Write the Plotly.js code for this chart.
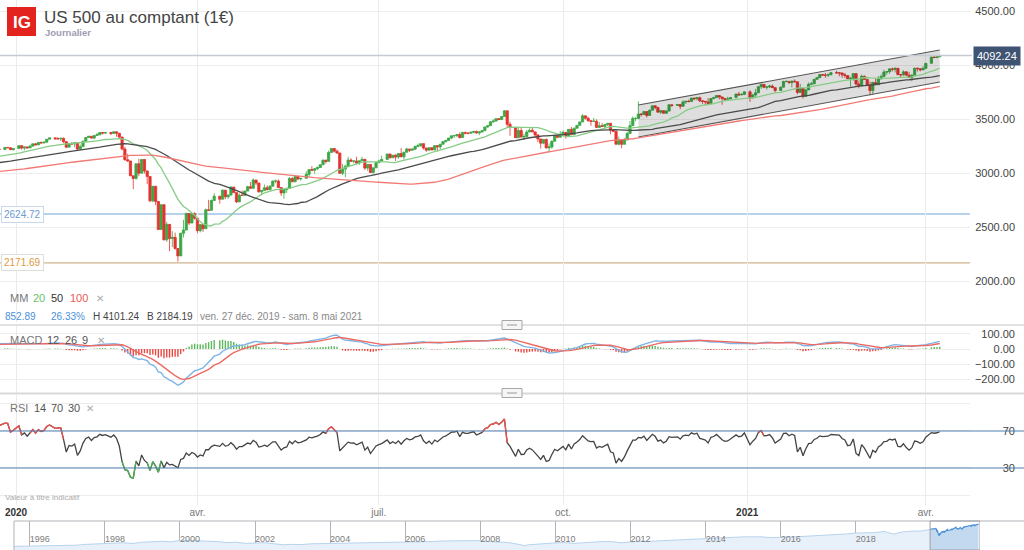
<!DOCTYPE html>
<html>
<head>
<meta charset="utf-8">
<script src="https://cdn.plot.ly/plotly-3.0.1.min.js"></script>
<style>html,body{margin:0;padding:0;background:#fff;}#chart{width:1024px;height:550px;}</style>
</head>
<body>
<div id="chart"></div>
<script>
// ---------------- DATA ----------------
// US holidays (no session)
const holidays = ['2019-09-02','2019-11-28','2019-12-25','2020-01-01','2020-01-20','2020-02-17','2020-04-10','2020-05-25','2020-07-03','2020-09-07','2020-11-26','2020-12-25','2021-01-01','2021-01-18','2021-02-15','2021-04-02'];

// Closes before the visible window (Aug 1 - Dec 23 2019), only used to seed the indicators
const preClose = [
 2953,2932,2844,2881,2883,2938,2918,2883,2926,2840,2847,2889,2923,2900,2924,2922,2847,2878,2869,2887,2924,2926,
 2906,2937,2976,2979,2978,2979,3000,3009,3007,2997,3005,3006,3006,2992,2991,2966,2984,2977,2961,2976,
 2940,2887,2910,2952,2938,2893,2919,2938,2970,2966,2995,2989,2997,2986,3006,2996,3004,3010,3023,3039,3036,3046,3038,
 3067,3078,3075,3077,3085,3093,3087,3091,3094,3097,3120,3122,3120,3108,3104,3110,3133,3140,3153,3141,
 3113,3093,3113,3117,3146,3136,3133,3142,3169,3169,3192,3192,3191,3206,3221,3224
];

// Daily candles, Dec 24 2019 - Apr 8 2021 (the CFD opens where the prior session closed)
const openP = [
 3224,3223,3240,3239.35,3221,
 3231,3258,3235,3246,3237,3253,3275,3265,3288,3283,3289,3317,3330,3321,3321,3326,3295,3244,3276,3273,3284,
 3226,3249,3298,3334,3345,3328,3352,3358,3379,3374,3380,3370,3386,3373,3338,3226,3128,3116,2979,
 2954,3090,3003,3130,3024,2972,2747,2882,2741,2481,2711,2386,2529,2398,2409,2305,2237,2447,2476,2630,2541,2627,
 2585,2471,2527,2489,2664,2659,2750,2790,2762,2846,2784,2800,2875,2823,2737,2799,2798,2837,2878,2863,2940,
 2912,2831,2843,2868,2849,2882,2930,2930,2870,2820,2852,2864,2954,2923,2972,2949,2955,2992,3036,3030,
 3044,3056,3081,3123,3112,3194,3232,3207,3190,3002,3041,3067,3125,3114,3116,3098,3118,3131,3050,3084,3009,3053,
 3100,3116,3130,3180,3145,3169,3152,3185,3155,3197,3227,3216,3225,3251,3257,3276,3236,3216,3239,3218,3258,3246,
 3271,3295,3306,3328,3349,3351,3360,3333,3380,3373,3373,3382,3389,3375,3385,3397,3431,3443,3479,3485,3508,
 3500,3527,3580,3455,3427,3331,3399,3339,3341,3384,3401,3385,3357,3320,3281,3315,3237,3246,3298,3351,3335,
 3363,3381,3348,3409,3361,3419,3446,3477,3534,3512,3489,3483,3484,3427,3443,3435,3453,3465,3401,3391,3271,3310,
 3270,3310,3370,3443,3510,3510,3551,3546,3573,3537,3585,3627,3610,3568,3582,3558,3578,3636,3630,3638,
 3622,3662,3669,3666,3699,3692,3702,3673,3668,3663,3647,3695,3702,3722,3709,3695,3687,3690,3703,3735,3727,3732,
 3756,3701,3727,3748,3804,3825,3799,3801,3810,3795,3768,3799,3852,3853,3841,3855,3849,3751,3787,
 3714,3774,3826,3830,3872,3887,3916,3911,3910,3916,3934,3932,3931,3914,3907,3877,3881,3925,3829,
 3811,3901,3871,3820,3768,3842,3821,3875,3898,3939,3943,3969,3963,3974,3916,3913,3941,3911,3889,3910,3975,3971,3959,
 3973,4020,4078,4074,4080
];
const highP = [
 3226,3240,3247,3240,3231,
 3258,3246,3247,3245,3267,3276,3282,3289,3294,3298,3317,3330,3329,3337,3326,3334,3258,3285,3293,3285,3282,
 3268,3307,3337,3347,3342,3352,3376,3381,3385,3381,3375,3393,3390,3360,3259,3247,3182,3098,2959,
 3091,3136,3130,3083,2985,2863,2882,2825,2660,2711,2562,2553,2453,2466,2453,2300,2450,2571,2638,2616,2631,2642,
 2523,2534,2538,2676,2756,2760,2818,2783,2852,2801,2806,2880,2868,2785,2815,2844,2842,2887,2921,2954,2931,
 2869,2844,2898,2891,2892,2933,2945,2945,2875,2852,2865,2968,2965,2980,2978,2957,3021,3036,3068,3049,
 3063,3082,3131,3129,3212,3233,3223,3223,3124,3089,3079,3154,3141,3120,3155,3120,3155,3115,3086,3074,3053,3111,
 3128,3166,3183,3184,3172,3179,3187,3236,3200,3239,3221,3233,3258,3277,3279,3280,3227,3242,3244,3264,3250,3272,
 3302,3306,3330,3352,3352,3364,3381,3387,3387,3378,3387,3395,3399,3390,3399,3432,3444,3481,3501,3510,3514,
 3528,3588,3564,3479,3379,3424,3425,3368,3403,3419,3428,3375,3363,3301,3320,3324,3279,3307,3360,3357,3393,
 3397,3369,3409,3432,3426,3447,3482,3550,3535,3527,3490,3515,3502,3476,3465,3460,3466,3441,3411,3342,3342,3305,
 3330,3389,3486,3529,3521,3668,3558,3581,3569,3593,3628,3624,3619,3586,3582,3589,3643,3638,3644,3634,
 3678,3670,3683,3699,3697,3709,3713,3678,3665,3697,3695,3712,3725,3726,3702,3698,3711,3703,3740,3756,3744,3760,
 3770,3738,3783,3811,3826,3818,3810,3821,3823,3796,3805,3859,3862,3852,3860,3871,3837,3830,3779,
 3784,3843,3848,3872,3895,3916,3919,3931,3925,3937,3950,3933,3921,3931,3902,3895,3928,3926,3861,
 3915,3906,3874,3852,3851,3881,3903,3917,3960,3944,3970,3981,3984,3969,3921,3956,3949,3942,3919,3978,3981,3969,3994,
 4021,4083,4086,4083,4101.24
];
const lowP = [
 3220,3222,3234,3216,3212,
 3228,3222,3215,3233,3236,3253,3260,3265,3277,3280,3289,3317,3316,3320,3301,3281,3234,3244,3271,3243,3214,
 3220,3249,3298,3334,3323,3317,3352,3358,3361,3367,3355,3370,3341,3328,3215,3118,3108,2977,2855,
 2945,2976,3003,2999,2901,2734,2734,2707,2478,2481,2380,2367,2281,2319,2295,2184.19,2237,2408,2476,2521,2541,2571,
 2447,2455,2459,2489,2657,2659,2750,2721,2762,2761,2765,2800,2820,2728,2737,2794,2795,2837,2861,2863,2892,
 2822,2797,2843,2847,2849,2882,2910,2869,2793,2766,2820,2864,2922,2923,2938,2934,2955,2969,3024,2999,
 3032,3052,3081,3091,3112,3194,3194,3181,2999,2984,2966,3067,3108,3093,3083,3079,3118,3033,3025,3005,3000,3048,
 3100,3116,3130,3142,3145,3116,3136,3150,3128,3197,3199,3211,3216,3248,3250,3222,3200,3215,3215,3218,3205,3220,
 3271,3287,3306,3318,3329,3336,3323,3333,3363,3362,3373,3370,3369,3354,3379,3397,3422,3443,3468,3484,3494,
 3494,3527,3427,3349,3329,3331,3330,3310,3341,3384,3384,3328,3292,3230,3271,3232,3209,3228,3298,3327,3335,
 3361,3323,3348,3354,3361,3419,3446,3477,3500,3480,3441,3483,3420,3427,3433,3415,3440,3364,3385,3268,3260,3233,
 3270,3310,3370,3443,3484,3510,3526,3546,3518,3537,3585,3593,3567,3553,3557,3552,3578,3617,3630,3595,
 3622,3644,3660,3666,3679,3678,3660,3644,3634,3645,3647,3686,3702,3686,3636,3676,3687,3689,3703,3723,3727,3726,
 3663,3696,3705,3748,3783,3790,3776,3791,3792,3750,3768,3799,3845,3831,3797,3847,3733,3751,3694,
 3714,3774,3822,3830,3871,3887,3906,3885,3891,3906,3923,3900,3885,3884,3874,3805,3860,3814,3789,
 3811,3868,3818,3723,3730,3819,3821,3875,3898,3915,3924,3944,3936,3910,3886,3906,3901,3889,3854,3910,3944,3945,3959,
 3973,4020,4068,4069,4080
];
const closeP = [
 3223,3240,3239.35,3221,3231,
 3258,3235,3246,3237,3253,3275,3265,3288,3283,3289,3317,3330,3321,3321,3326,3295,3244,3276,3273,3284,3226,
 3249,3298,3334,3345,3328,3352,3358,3379,3374,3380,3370,3386,3373,3338,3226,3128,3116,2979,2954,
 3090,3003,3130,3024,2972,2747,2882,2741,2481,2711,2386,2529,2398,2409,2305,2237,2447,2476,2630,2541,2627,2585,
 2471,2527,2489,2664,2659,2750,2790,2762,2846,2784,2800,2875,2823,2737,2799,2798,2837,2878,2863,2940,2912,
 2831,2843,2868,2849,2882,2930,2930,2870,2820,2852,2864,2954,2923,2972,2949,2955,2992,3036,3030,3044,
 3056,3081,3123,3112,3194,3232,3207,3190,3002,3041,3067,3125,3114,3116,3098,3118,3131,3050,3084,3009,3053,3100,
 3116,3130,3180,3145,3169,3152,3185,3155,3197,3227,3216,3225,3251,3257,3276,3236,3216,3239,3218,3258,3246,3271,
 3295,3306,3328,3349,3351,3360,3333,3380,3373,3373,3382,3389,3375,3385,3397,3431,3443,3479,3485,3508,3500,
 3527,3580,3455,3427,3331,3399,3339,3341,3384,3401,3385,3357,3320,3281,3315,3237,3246,3298,3351,3335,3363,
 3381,3348,3409,3361,3419,3446,3477,3534,3512,3489,3483,3484,3427,3443,3435,3453,3465,3401,3391,3271,3310,3270,
 3310,3370,3443,3510,3510,3551,3546,3573,3537,3585,3627,3610,3568,3582,3558,3578,3636,3630,3638,3622,
 3662,3669,3666,3699,3692,3702,3673,3668,3663,3647,3695,3702,3722,3709,3695,3687,3690,3703,3735,3727,3732,3756,
 3701,3727,3748,3804,3825,3799,3801,3810,3795,3768,3799,3852,3853,3841,3855,3849,3751,3787,3714,
 3774,3826,3830,3872,3887,3916,3911,3910,3916,3934,3932,3931,3914,3907,3877,3881,3925,3829,3811,
 3901,3871,3820,3768,3842,3821,3875,3898,3939,3943,3969,3963,3974,3916,3913,3941,3911,3889,3910,3975,3971,3959,3973,
 4020,4078,4074,4080,4092.24
];

// Moving-average periods and indicator settings shown in the legends
const maPeriods = [20, 50, 100];
const macdParams = [12, 26, 9];
const rsiParams = [14, 70, 30];

// Drawn levels and channel (user drawings)
const levels = [2624.72, 2171.69];
const channelDates = ['2020-11-09', '2021-04-08'];
const channelTop = [3634, 4143];
const channelBottom = [3338, 3847];

// Axis ticks
const priceTicks = [2000, 2500, 3000, 3500, 4000, 4500];
const macdTicks = [-200, -100, 0, 100];
const rsiTicks = [0, 30, 70, 100];
const rsiTickText = ['', '30', '70', ''];
const monthTicks = ['2020-01-01','2020-04-01','2020-07-01','2020-10-01','2021-01-01','2021-04-01'];
const monthLabels = ['<b style="color:#333">2020</b>','avr.','juil.','oct.','<b style="color:#333">2021</b>','avr.'];
const viewRange = ['2019-12-24 06:00', '2021-04-22 20:00'];
const rangeText = 'ven. 27 déc. 2019 - sam. 8 mai 2021';
const refDate = '2019-12-27';

// Navigator (long history)
const navDates = ['1995-07-01','1995-10-01','1996-01-01','1996-04-01','1996-07-01','1996-10-01','1997-01-01','1997-04-01','1997-07-01','1997-10-01',
 '1998-01-01','1998-04-01','1998-07-01','1998-10-01','1999-01-01','1999-04-01','1999-07-01','1999-10-01','2000-01-01','2000-04-01','2000-07-01','2000-10-01',
 '2001-01-01','2001-04-01','2001-07-01','2001-10-01','2002-01-01','2002-04-01','2002-07-01','2002-10-01','2003-01-01','2003-04-01','2003-07-01','2003-10-01',
 '2004-01-01','2004-04-01','2004-07-01','2004-10-01','2005-01-01','2005-04-01','2005-07-01','2005-10-01','2006-01-01','2006-04-01','2006-07-01','2006-10-01',
 '2007-01-01','2007-04-01','2007-07-01','2007-10-01','2008-01-01','2008-04-01','2008-07-01','2008-10-01','2009-01-01','2009-03-09','2009-04-01','2009-07-01','2009-10-01',
 '2010-01-01','2010-04-01','2010-07-01','2010-10-01','2011-01-01','2011-04-01','2011-07-01','2011-10-01','2012-01-01','2012-04-01','2012-07-01','2012-10-01',
 '2013-01-01','2013-04-01','2013-07-01','2013-10-01','2014-01-01','2014-04-01','2014-07-01','2014-10-01','2015-01-01','2015-04-01','2015-07-01','2015-10-01',
 '2016-01-01','2016-04-01','2016-07-01','2016-10-01','2017-01-01','2017-04-01','2017-07-01','2017-10-01','2018-01-01','2018-04-01','2018-07-01','2018-10-01',
 '2019-01-01','2019-04-01','2019-07-01','2019-10-01','2019-12-23'];
const navClose = [562,582,616,645,670,687,740,757,885,947,
 970,1101,1133,1017,1229,1286,1372,1282,1469,1498,1454,1436,
 1320,1160,1224,1040,1148,1147,990,815,880,848,975,996,
 1112,1126,1140,1114,1212,1180,1191,1228,1248,1295,1270,1335,
 1418,1421,1503,1527,1468,1323,1280,1166,903,677,798,919,1057,
 1115,1169,1030,1141,1257,1326,1320,1131,1258,1408,1362,1440,
 1426,1569,1606,1682,1848,1872,1960,1972,2059,2068,2063,1920,
 2044,2060,2099,2168,2239,2363,2423,2519,2674,2640,2718,2914,
 2507,2834,2964,2977,3224];
const navTicks = ['1996-01-01','1998-01-01','2000-01-01','2002-01-01','2004-01-01','2006-01-01','2008-01-01','2010-01-01','2012-01-01','2014-01-01','2016-01-01','2018-01-01'];
const navLabels = ['1996','1998','2000','2002','2004','2006','2008','2010','2012','2014','2016','2018'];

// ---------------- HELPERS ----------------
function tradingDays(start, end, skip) {
  const out = []; const d = new Date(start + 'T00:00:00Z'); const e = new Date(end + 'T00:00:00Z');
  while (d <= e) { const w = d.getUTCDay(); const s = d.toISOString().slice(0, 10);
    if (w !== 0 && w !== 6 && skip.indexOf(s) < 0) out.push(s); d.setUTCDate(d.getUTCDate() + 1); }
  return out;
}
function sma(a, n) { const r = []; let s = 0; for (let i = 0; i < a.length; i++) { s += a[i]; if (i >= n) s -= a[i - n]; r.push(i >= n - 1 ? s / n : null); } return r; }
function ema(a, n) { const k = 2 / (n + 1); const r = [a[0]]; for (let i = 1; i < a.length; i++) r.push(a[i] * k + r[i - 1] * (1 - k)); return r; }
function rsi(a, n) { const r = [null]; let g = 0, l = 0;
  for (let i = 1; i < a.length; i++) { const ch = a[i] - a[i - 1]; const up = Math.max(ch, 0), dn = Math.max(-ch, 0);
    if (i <= n) { g += up / n; l += dn / n; r.push(i === n ? 100 - 100 / (1 + g / (l || 1e-9)) : null); }
    else { g = (g * (n - 1) + up) / n; l = (l * (n - 1) + dn) / n; r.push(100 - 100 / (1 + g / (l || 1e-9))); } }
  return r; }

const allDates = tradingDays('2019-08-01', '2021-04-08', holidays);
const nPre = preClose.length;
const dates = allDates.slice(nPre);
const allClose = preClose.concat(closeP);
const cut = a => a.slice(nPre);

const maLines = maPeriods.map(p => cut(sma(allClose, p)));
const e1 = ema(allClose, macdParams[0]), e2 = ema(allClose, macdParams[1]);
const macdAll = e1.map((v, i) => v - e2[i]);
const sigAll = ema(macdAll, macdParams[2]);
const macd = cut(macdAll), signal = cut(sigAll);
const hist = macd.map((v, i) => v - signal[i]);
const rsiV = cut(rsi(allClose, rsiParams[0]));
const rsiHi = rsiV.map((v, i) => (v > rsiParams[1] || rsiV[i - 1] > rsiParams[1] || rsiV[i + 1] > rsiParams[1]) ? v : null);
const rsiLo = rsiV.map((v, i) => (v < rsiParams[2] || rsiV[i - 1] < rsiParams[2] || rsiV[i + 1] < rsiParams[2]) ? v : null);

const last = closeP.length - 1;
const i0 = dates.indexOf(refDate);
const chg = closeP[last] - closeP[i0];
const pct = chg / closeP[i0] * 100;
const hiMax = Math.max.apply(null, highP.slice(i0));
const loMin = Math.min.apply(null, lowP.slice(i0));

// ---------------- PLOT ----------------
const W = 1024, H = 550;
const px = x => x / W, py = y => 1 - y / H;
const GREEN = '#3aa845', RED = '#e3342f';

const traces = [];
// channel fill
traces.push({ x: [channelDates[0], channelDates[1], channelDates[1], channelDates[0]], y: [channelTop[0], channelTop[1], channelBottom[1], channelBottom[0]],
  fill: 'toself', fillcolor: 'rgba(0,0,0,0.13)', line: { width: 0 }, mode: 'lines', type: 'scatter', xaxis: 'x', yaxis: 'y', hoverinfo: 'skip' });
traces.push({ x: channelDates, y: channelTop, mode: 'lines', line: { color: '#555', width: 1.1 }, type: 'scatter', xaxis: 'x', yaxis: 'y', hoverinfo: 'skip' });
traces.push({ x: channelDates, y: channelBottom, mode: 'lines', line: { color: '#555', width: 1.1 }, type: 'scatter', xaxis: 'x', yaxis: 'y', hoverinfo: 'skip' });
// moving averages
const maColors = ['#86cc86', '#4a4a4a', '#f27a75'];
maLines.forEach((m, k) => traces.push({ x: dates, y: m, mode: 'lines', line: { color: maColors[k], width: 1.3 }, type: 'scatter', xaxis: 'x', yaxis: 'y', hoverinfo: 'skip' }));
// candles
traces.push({ type: 'candlestick', x: dates, open: openP, high: highP, low: lowP, close: closeP, xaxis: 'x', yaxis: 'y',
  increasing: { line: { color: GREEN, width: 0.8 }, fillcolor: GREEN }, decreasing: { line: { color: RED, width: 0.8 }, fillcolor: RED },
  whiskerwidth: 0, hoverinfo: 'skip' });
// MACD
traces.push({ type: 'bar', x: dates, y: hist, xaxis: 'x', yaxis: 'y2', marker: { color: hist.map(v => v >= 0 ? '#5cb85c' : '#e8463f'), line: { width: 0 } }, width: 0.5 * 86400000, hoverinfo: 'skip' });
traces.push({ x: dates, y: macd, mode: 'lines', line: { color: '#7eb3e6', width: 1.4 }, type: 'scatter', xaxis: 'x', yaxis: 'y2', hoverinfo: 'skip' });
traces.push({ x: dates, y: signal, mode: 'lines', line: { color: '#ec6a64', width: 1.4 }, type: 'scatter', xaxis: 'x', yaxis: 'y2', hoverinfo: 'skip' });
// RSI
traces.push({ x: dates, y: rsiV, mode: 'lines', line: { color: '#444', width: 1.3 }, type: 'scatter', xaxis: 'x', yaxis: 'y3', hoverinfo: 'skip' });
traces.push({ x: dates, y: rsiHi, mode: 'lines', line: { color: '#f0514b', width: 1.3 }, type: 'scatter', xaxis: 'x', yaxis: 'y3', hoverinfo: 'skip', connectgaps: false });
traces.push({ x: dates, y: rsiLo, mode: 'lines', line: { color: '#4cb050', width: 1.3 }, type: 'scatter', xaxis: 'x', yaxis: 'y3', hoverinfo: 'skip', connectgaps: false });
// navigator
traces.push({ x: navDates, y: navClose, mode: 'lines', fill: 'tozeroy', fillcolor: '#e8f1fa', line: { color: '#b8d3ee', width: 1 }, type: 'scatter', xaxis: 'x2', yaxis: 'y4', hoverinfo: 'skip' });
traces.push({ x: dates, y: closeP, mode: 'lines', fill: 'tozeroy', fillcolor: '#c3d9f0', line: { color: '#4a8fd7', width: 1.2 }, type: 'scatter', xaxis: 'x2', yaxis: 'y4', hoverinfo: 'skip' });

const ann = [];
function txt(t, x, y, size, color, extra) { ann.push(Object.assign({ text: t, x: px(x), y: py(y), xref: 'paper', yref: 'paper', xanchor: 'left', yanchor: 'middle', showarrow: false, font: { size: size, color: color } }, extra || {})); }
// header
txt('US 500 au comptant (1€)', 42, 18, 17, '#444');
txt('<b>Journalier</b>', 43, 32, 9.5, '#a09cb2');
txt('<b>IG</b>', 21.5, 22, 17, '#fff', { xanchor: 'center' });
// MA legend
txt('MM', 8, 298, 11, '#777'); txt(String(maPeriods[0]), 31, 298, 11, '#6abf69'); txt(String(maPeriods[1]), 49, 298, 11, '#333'); txt(String(maPeriods[2]), 68, 298, 11, '#ee5a55'); txt('✕', 94, 298, 10, '#aaa');
// stats
txt(chg.toFixed(2), 3, 316, 10, '#4a90d9'); txt(pct.toFixed(2) + '%', 49, 316, 10, '#4a90d9');
txt('H ' + hiMax.toFixed(2), 91, 316, 10, '#444'); txt('B ' + loMin.toFixed(2), 145, 316, 10, '#444'); txt(rangeText, 198, 316, 10, '#888');
// MACD legend
txt('MACD', 8, 340, 11, '#777'); txt(String(macdParams[0]), 45, 340, 11, '#555'); txt(String(macdParams[1]), 63, 340, 11, '#555'); txt(String(macdParams[2]), 80, 340, 11, '#555'); txt('✕', 95, 340, 10, '#aaa');
// RSI legend
txt('RSI', 8, 408, 11, '#777'); txt(String(rsiParams[0]), 32, 408, 11, '#555'); txt(String(rsiParams[1]), 49, 408, 11, '#555'); txt(String(rsiParams[2]), 66, 408, 11, '#555'); txt('✕', 84, 408, 10, '#aaa');
txt('Valeur à titre indicatif', 3, 497, 8, '#aaa');
// level labels
ann.push({ text: levels[0].toFixed(2), x: px(1), y: levels[0], xref: 'paper', yref: 'y', xanchor: 'left', yanchor: 'middle', showarrow: false, font: { size: 10, color: '#6b9bd1' }, bgcolor: '#fff', bordercolor: '#c7d8ea', borderwidth: 1, borderpad: 2 });
ann.push({ text: levels[1].toFixed(2), x: px(1), y: levels[1], xref: 'paper', yref: 'y', xanchor: 'left', yanchor: 'middle', showarrow: false, font: { size: 10, color: '#e0993a' }, bgcolor: '#fff', bordercolor: '#ddd', borderwidth: 1, borderpad: 2 });
// last price box
ann.push({ text: closeP[last].toFixed(2), x: px(997), y: closeP[last], xref: 'paper', yref: 'y', xanchor: 'center', yanchor: 'middle', showarrow: false, font: { size: 11, color: '#fff' }, bgcolor: '#3f5372', borderpad: 3 });

const shapes = [
  { type: 'rect', xref: 'paper', yref: 'paper', x0: px(7), x1: px(36), y0: py(36), y1: py(7), fillcolor: '#e2231e', line: { width: 0 } },
  { type: 'line', xref: 'paper', yref: 'y', x0: 0, x1: px(972), y0: closeP[last], y1: closeP[last], line: { color: '#c6cbd3', width: 1.5 } },
  { type: 'line', xref: 'paper', yref: 'y', x0: 0, x1: px(970), y0: levels[0], y1: levels[0], line: { color: '#b7d2ec', width: 2 }, layer: 'below' },
  { type: 'line', xref: 'paper', yref: 'y', x0: 0, x1: px(970), y0: levels[1], y1: levels[1], line: { color: '#d2b48f', width: 1.2 }, layer: 'below' },
  { type: 'line', xref: 'paper', yref: 'y3', x0: 0, x1: 1, y0: rsiParams[1], y1: rsiParams[1], line: { color: '#4f7fb0', width: 1.2 } },
  { type: 'line', xref: 'paper', yref: 'y3', x0: 0, x1: 1, y0: rsiParams[2], y1: rsiParams[2], line: { color: '#4f7fb0', width: 1.2 } },
  // panel separators
  { type: 'line', xref: 'paper', yref: 'paper', x0: 0, x1: 1, y0: py(325), y1: py(325), line: { color: '#c4c4c4', width: 1 } },
  { type: 'line', xref: 'paper', yref: 'paper', x0: 0, x1: 1, y0: py(393.5), y1: py(393.5), line: { color: '#d9d9d9', width: 2 } },
  { type: 'rect', xref: 'paper', yref: 'paper', x0: px(502), x1: px(522), y0: py(329.5), y1: py(320.5), fillcolor: '#f6f6f6', line: { color: '#a8a8a8', width: 1 } },
  { type: 'line', xref: 'paper', yref: 'paper', x0: px(507), x1: px(517), y0: py(325), y1: py(325), line: { color: '#999', width: 1 } },
  { type: 'rect', xref: 'paper', yref: 'paper', x0: px(502), x1: px(522), y0: py(397.5), y1: py(388.5), fillcolor: '#f6f6f6', line: { color: '#a8a8a8', width: 1 } },
  { type: 'line', xref: 'paper', yref: 'paper', x0: px(507), x1: px(517), y0: py(393), y1: py(393), line: { color: '#999', width: 1 } },
  // navigator frame
  { type: 'line', xref: 'paper', yref: 'paper', x0: px(14), x1: 1, y0: py(521), y1: py(521), line: { color: '#b3b3ba', width: 1 } },
  { type: 'line', xref: 'paper', yref: 'paper', x0: px(14), x1: px(14), y0: py(521), y1: 0, line: { color: '#b3b3ba', width: 1 } },
  { type: 'rect', xref: 'x2', yref: 'paper', x0: viewRange[0], x1: viewRange[1], y0: 0, y1: py(521), line: { color: '#9d9da6', width: 1 } }
];

const axBase = { showline: false, zeroline: false, ticks: '', fixedrange: true };
const layout = {
  width: W, height: H, margin: { l: 0, r: 0, t: 0, b: 0 }, paper_bgcolor: '#fff', plot_bgcolor: '#fff', showlegend: false,
  boxmode: 'overlay', boxgap: 0.12, boxgroupgap: 0.08,
  font: { family: 'Liberation Sans, Arial, sans-serif', color: '#444', size: 11 },
  xaxis: Object.assign({}, axBase, { type: 'date', domain: [0, px(970)], anchor: 'y3', range: viewRange, rangebreaks: [{ bounds: ['sat', 'mon'] }],
    rangeslider: { visible: false }, tickvals: monthTicks, ticktext: monthLabels, showgrid: true, gridcolor: '#ebebeb', tickfont: { size: 10, color: '#777' } }),
  yaxis: Object.assign({}, axBase, { domain: [py(322), 1], range: [1625, 4606.5], anchor: 'free', position: px(1015), side: 'left', tickvals: priceTicks, tickformat: '.2f', showgrid: true, gridcolor: '#ededed', tickfont: { size: 11, color: '#444' } }),
  yaxis2: Object.assign({}, axBase, { domain: [py(393), py(325)], range: [-287.6, 156.9], anchor: 'free', position: px(1015), side: 'left', tickvals: macdTicks, tickformat: '.2f', showgrid: true, gridcolor: '#ededed', tickfont: { size: 11, color: '#444' } }),
  yaxis3: Object.assign({}, axBase, { domain: [py(505), py(395)], range: [-10, 108.9], anchor: 'free', position: px(1015), side: 'left', tickvals: rsiTicks, ticktext: rsiTickText, showgrid: true, gridcolor: '#ededed', tickfont: { size: 11, color: '#444' } }),
  xaxis2: Object.assign({}, axBase, { type: 'date', domain: [px(14), px(980)], anchor: 'y4', range: ['1995-08-01', viewRange[1]], tickvals: navTicks, ticktext: navLabels,
    ticklabelposition: 'inside right', showgrid: true, gridcolor: '#b3b3ba', tickfont: { size: 9, color: '#7c7c7c' } }),
  yaxis4: Object.assign({}, axBase, { domain: [0, py(521)], range: [0, 4550], visible: false }),
  annotations: ann, shapes: shapes
};

Plotly.newPlot('chart', traces, layout, { staticPlot: true, displayModeBar: false });
</script>
</body>
</html>
